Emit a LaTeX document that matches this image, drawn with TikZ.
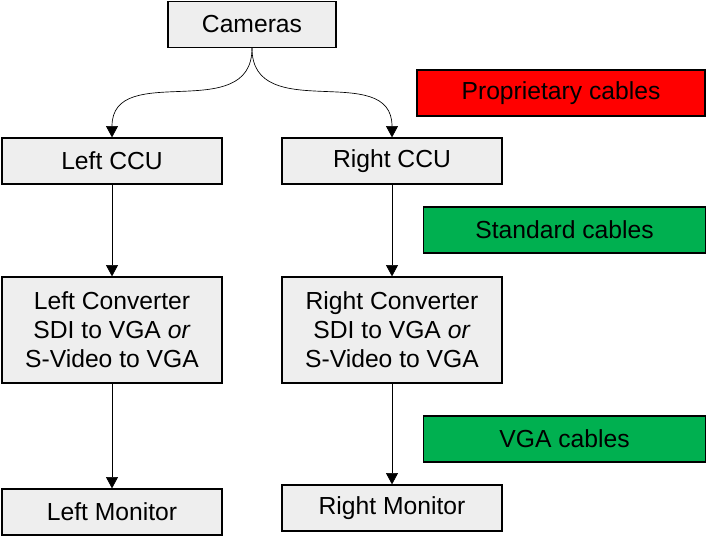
\documentclass[tikz,border=0pt]{standalone}
\usepackage{fontspec}
\setmainfont{Liberation Sans}
\usepackage{tikz}
\usepackage{xcolor}
\usetikzlibrary{arrows.meta}

\definecolor{boxgray}{HTML}{EEEEEE}
\definecolor{propred}{HTML}{FF0000}
\definecolor{stdgreen}{HTML}{00B050}

\begin{document}
\begin{tikzpicture}[x=0.75pt, y=-0.75pt,
  box/.style={draw, line width=0.9pt, fill=boxgray, inner sep=0pt, align=center,
    minimum height=34.5pt, font=\fontsize{18.5}{21.75}\selectfont},
  legend/.style={box, minimum width=211pt},
  cable/.style={-{Triangle[length=8.5pt,width=9pt]}, line width=0.5pt}]
\useasboundingbox (0,0) rectangle (706,539);
\node [box, minimum width=126pt] (cameras) at (252,24.5) {Cameras};
\node [box, minimum width=165pt] (lccu) at (112,161) {Left CCU};
\node [box, minimum width=165pt] (rccu) at (392,161) {Right CCU};
\node [box, minimum width=165pt, minimum height=79.5pt] (lconv) at (112,330)
  {Left Converter\\SDI to VGA \textit{or}\\S-Video to VGA};
\node [box, minimum width=165pt, minimum height=79.5pt] (rconv) at (392,330)
  {Right Converter\\SDI to VGA \textit{or}\\S-Video to VGA};
\node [box, minimum width=165pt] (lmon) at (112,512) {Left Monitor};
\node [box, minimum width=165pt] (rmon) at (392,508) {Right Monitor};
% legend
\node [legend, fill=propred, minimum width=216pt] (prop) at (561,93) {Proprietary cables};
\node [legend, fill=stdgreen] (std) at (564.5,230) {Standard cables};
\node [legend, fill=stdgreen] (vga) at (564.5,439) {VGA cables};
% connections
\draw [cable] (cameras.south) to [out=-90, in=90, looseness=1.2] (lccu.north);
\draw [cable] (cameras.south) to [out=-90, in=90, looseness=1.2] (rccu.north);
\draw [cable] (lccu) -- (lconv);
\draw [cable] (rccu) -- (rconv);
\draw [cable] (lconv) -- (lmon);
\draw [cable] (rconv) -- (rmon);
\end{tikzpicture}
\end{document}
